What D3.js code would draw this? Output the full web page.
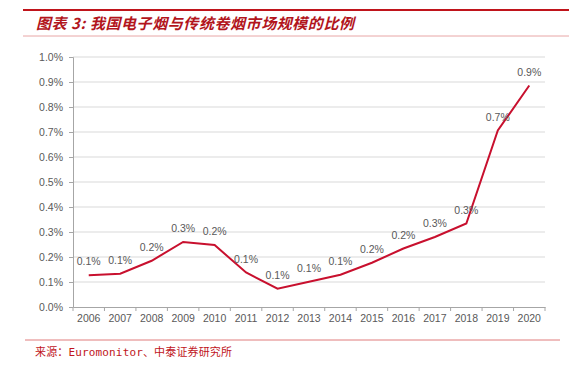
<!DOCTYPE html>
<html>
<head>
<meta charset="utf-8">
<script src="https://cdn.jsdelivr.net/npm/d3@7/dist/d3.min.js"></script>
<style>
  body { margin: 0; background: #fff; }
  svg text { font-family: "Liberation Sans", Arial, sans-serif; }
</style>
</head>
<body>
<div id="chart"></div>
<script>
var years = ["2006", "2007", "2008", "2009", "2010", "2011", "2012", "2013",
  "2014", "2015", "2016", "2017", "2018", "2019", "2020"];
// share of e-cig market vs traditional cigarettes, in %
var share = [0.127, 0.133, 0.185, 0.260, 0.248, 0.138, 0.073, 0.101,
  0.129, 0.177, 0.234, 0.280, 0.334, 0.706, 0.886];
var yTicks = [0, 0.1, 0.2, 0.3, 0.4, 0.5, 0.6, 0.7, 0.8, 0.9, 1.0];

var W = 569, H = 366;
var margin = { top: 57, right: 24, bottom: 59, left: 73 },
  width = W - margin.left - margin.right,
  height = H - margin.top - margin.bottom;

var svg = d3.select("#chart").append("svg")
  .attr("width", W)
  .attr("height", H);

// header / footer rules
svg.append("line").attr("x1", 23).attr("x2", W).attr("y1", 10).attr("y2", 10)
  .attr("stroke", "#c0141b").attr("stroke-width", 2);
svg.append("line").attr("x1", 23).attr("x2", W).attr("y1", 36).attr("y2", 36)
  .attr("stroke", "#e8a6a6").attr("stroke-width", 1);
svg.append("line").attr("x1", 25).attr("x2", 560).attr("y1", 340).attr("y2", 340)
  .attr("stroke", "#e07d7d").attr("stroke-width", 1);

svg.append("text")
  .attr("x", 36).attr("y", 29)
  .attr("textLength", 318)
  .attr("lengthAdjust", "spacing")
  .style("font-family", "'Noto Sans CJK SC', sans-serif")
  .style("font-size", "15px")
  .style("font-weight", "bold")
  .style("font-style", "italic")
  .attr("fill", "#b2151c")
  .text("图表 3:  我国电子烟与传统卷烟市场规模的比例");

svg.append("text")
  .attr("x", 35).attr("y", 356)
  .attr("textLength", 197)
  .attr("lengthAdjust", "spacing")
  .style("font-family", "'DejaVu Sans Mono', 'Noto Sans CJK SC', monospace")
  .style("font-size", "11px")
  .attr("fill", "#c0141b")
  .text("来源：Euromonitor、中泰证券研究所");

var g = svg.append("g")
  .attr("transform", "translate(" + margin.left + "," + margin.top + ")");

var x = d3.scaleBand().domain(years).range([0, width]);
var y = d3.scaleLinear().domain([0, 1]).range([height, 0]);

// gridlines
g.selectAll(".grid")
  .data(yTicks.slice(1))
  .enter().append("line")
  .attr("x1", 0).attr("x2", width)
  .attr("y1", function (d) { return y(d); })
  .attr("y2", function (d) { return y(d); })
  .attr("stroke", "#d9d9d9")
  .attr("stroke-width", 1);

// y axis
var yAxis = g.append("g")
  .call(d3.axisLeft(y).tickValues(yTicks).tickSize(4).tickPadding(6)
    .tickFormat(function (d) { return d.toFixed(1) + "%"; }));
yAxis.select(".domain").attr("stroke", "#a6a6a6");
yAxis.selectAll(".tick line").attr("stroke", "#a6a6a6");
yAxis.selectAll("text").attr("fill", "#595959").style("font-size", "10.5px");

// x axis, ticks at band edges
var xAxis = g.append("g")
  .attr("transform", "translate(0," + height + ")")
  .call(d3.axisBottom(x).tickSize(0).tickPadding(8));
xAxis.select(".domain").attr("stroke", "#a6a6a6");
xAxis.selectAll("text").attr("fill", "#595959").style("font-size", "10.5px");
g.append("g")
  .selectAll("line")
  .data(years.concat(["end"]))
  .enter().append("line")
  .attr("x1", function (d, i) { return i * x.step(); })
  .attr("x2", function (d, i) { return i * x.step(); })
  .attr("y1", height).attr("y2", height + 4)
  .attr("stroke", "#a6a6a6");

// line
var line = d3.line()
  .x(function (d, i) { return x(years[i]) + x.bandwidth() / 2; })
  .y(function (d) { return y(d); });

g.append("path")
  .datum(share)
  .attr("d", line)
  .attr("fill", "none")
  .attr("stroke", "#c8102e")
  .attr("stroke-width", 2);

// data labels
g.selectAll(".lbl")
  .data(share)
  .enter().append("text")
  .attr("x", function (d, i) { return x(years[i]) + x.bandwidth() / 2; })
  .attr("y", function (d) { return y(d) - 10; })
  .attr("text-anchor", "middle")
  .attr("fill", "#595959")
  .style("font-size", "10.5px")
  .text(function (d) { return d.toFixed(1) + "%"; });
</script>
</body>
</html>
